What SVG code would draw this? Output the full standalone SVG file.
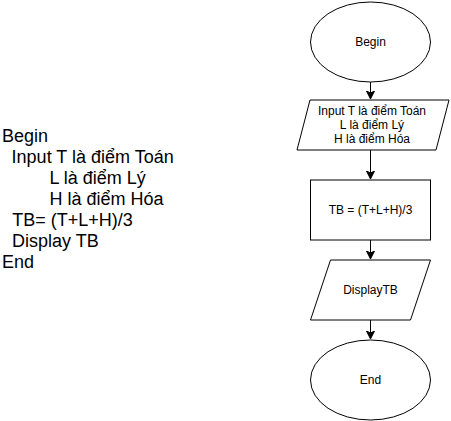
<svg xmlns="http://www.w3.org/2000/svg" width="451" height="421" viewBox="0 0 451 421">
<defs>
<style>
.s{fill:#fff;stroke:#000;stroke-width:1}
.t{font-family:"Liberation Sans",Arial,sans-serif;font-size:12px;fill:#000;text-anchor:middle}
.p{font-family:"Liberation Sans",Arial,sans-serif;font-size:18px;fill:#000}
.c{fill:none;stroke:#000;stroke-width:1}
</style>
<marker id="ah" markerUnits="userSpaceOnUse" markerWidth="10" markerHeight="10" viewBox="0 0 10 10" refX="8" refY="5" orient="auto">
<path d="M0,1 L8,5 L0,9 L2,5 Z" fill="#000" stroke="#000" stroke-width="1"/>
</marker>
</defs>
<rect width="451" height="421" fill="#fff"/>
<g id="pseudocode">
<text class="p" x="2" y="142.3">Begin</text>
<text class="p" x="11.6" y="163.3">Input T là điểm Toán</text>
<text class="p" x="49.4" y="184.3">L là điểm Lý</text>
<text class="p" x="49.4" y="205.3">H là điểm Hóa</text>
<text class="p" x="12.2" y="226.3">TB= (T+L+H)/3</text>
<text class="p" x="12" y="247.3">Display TB</text>
<text class="p" x="2" y="268.3">End</text>
</g>
<g id="connectors">
<path class="c" d="M370.5,82 V99" marker-end="url(#ah)"/>
<path class="c" d="M370.5,150 V179" marker-end="url(#ah)"/>
<path class="c" d="M370.5,240 V259" marker-end="url(#ah)"/>
<path class="c" d="M370.5,320 V339" marker-end="url(#ah)"/>
</g>
<g id="begin">
<ellipse class="s" cx="370.5" cy="42" rx="60" ry="40"/>
<text class="t" x="370.5" y="46">Begin</text>
</g>
<g id="input">
<path class="s" d="M310,100 H449 L436,150 H297 Z"/>
<text class="t" x="372" y="114.6">Input T là điểm Toán</text>
<text class="t" x="372" y="129">L là điểm Lý</text>
<text class="t" x="372" y="143.4">H là điểm Hóa</text>
</g>
<g id="compute">
<rect class="s" x="310.5" y="180" width="120" height="60"/>
<text class="t" x="370.5" y="214">TB = (T+L+H)/3</text>
</g>
<g id="display">
<path class="s" d="M330.5,260 H430.5 L410.5,320 H310.5 Z"/>
<text class="t" x="370.5" y="294">DisplayTB</text>
</g>
<g id="end">
<ellipse class="s" cx="370.5" cy="380" rx="60" ry="40"/>
<text class="t" x="370.5" y="384">End</text>
</g>
</svg>
